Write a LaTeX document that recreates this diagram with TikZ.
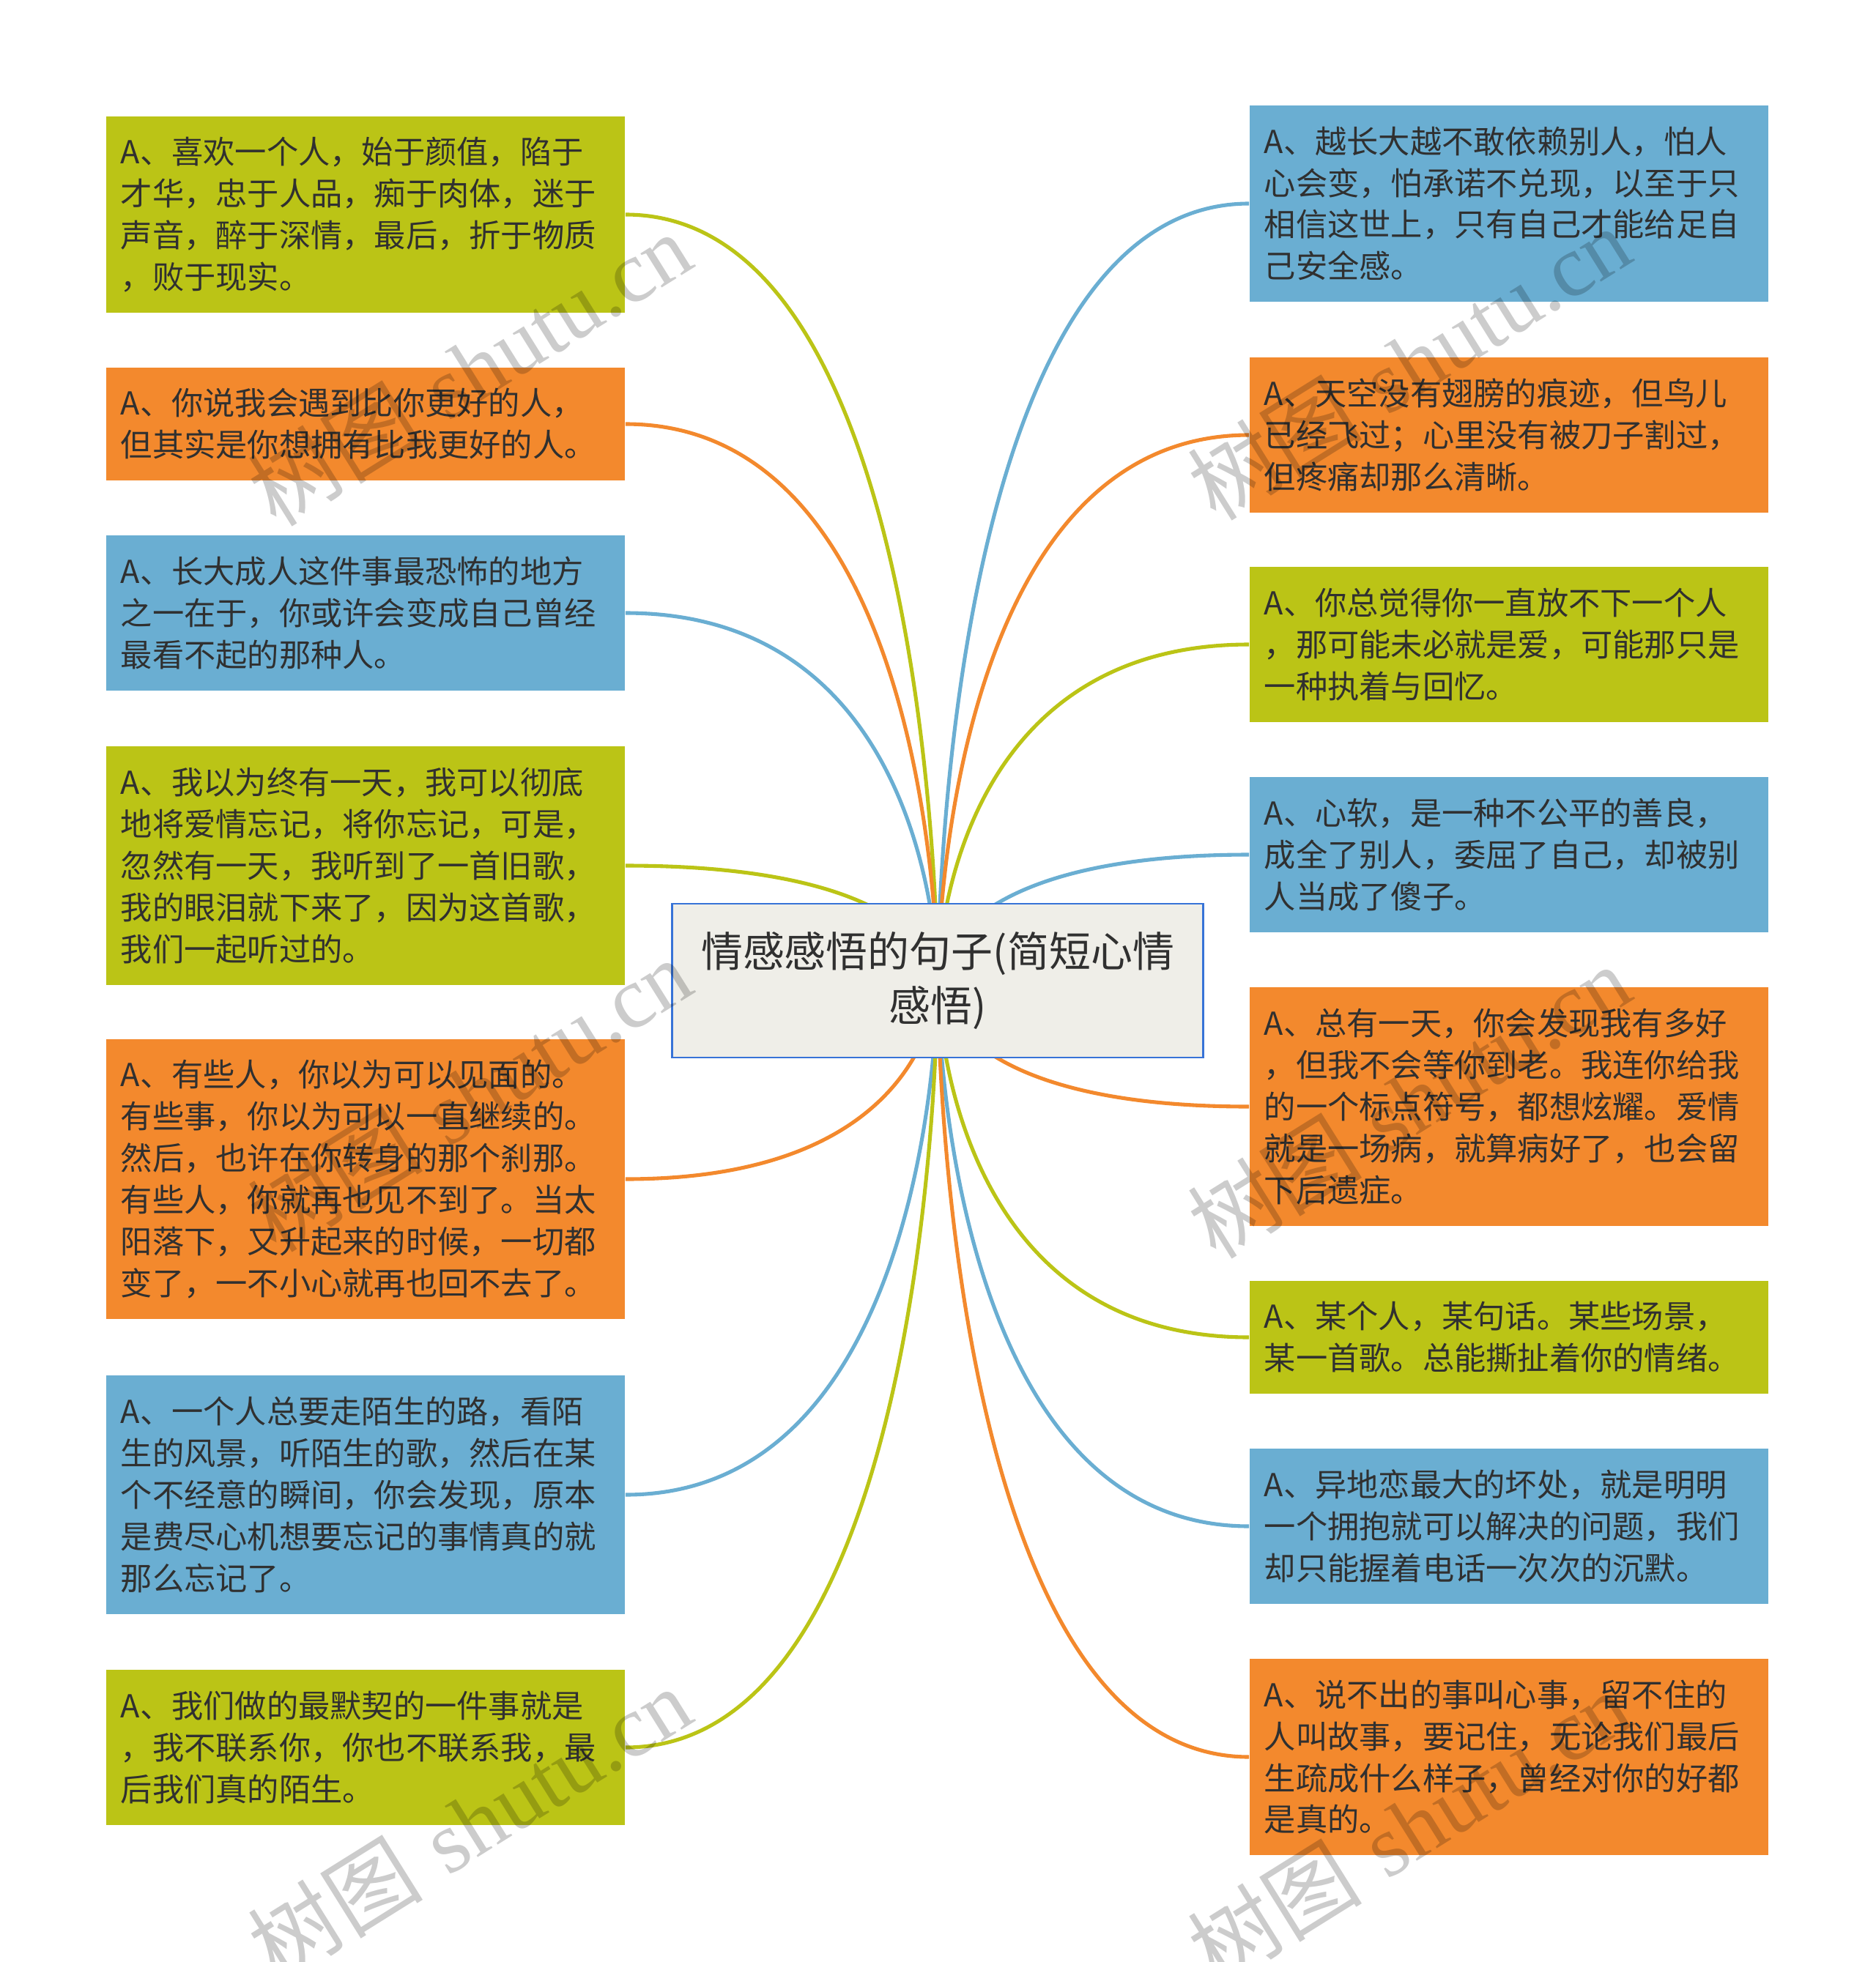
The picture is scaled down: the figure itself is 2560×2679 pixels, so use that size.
\documentclass[tikz,border=0pt]{standalone}
\usepackage{fontspec}
\newfontfamily\cjk{Noto Sans CJK SC}
\newfontfamily\wmserif{Liberation Serif}
\usepackage{xcolor}
\usetikzlibrary{calc}
\definecolor{mindgreen}{RGB}{187,196,22}
\definecolor{mindorange}{RGB}{243,137,45}
\definecolor{mindblue}{RGB}{106,174,210}
\definecolor{mindink}{RGB}{48,48,48}
\definecolor{titlefill}{RGB}{239,238,232}
\definecolor{titleedge}{RGB}{55,115,215}

\begin{document}
\begin{tikzpicture}[x=0.01cm, y=-0.01cm,
    card/.style={rectangle, inner xsep=0.2cm, inner ysep=0pt, text width=6.68cm,
      align=left, minimum height={(0.57*#1+0.4)*1cm}, text=mindink,
      font=\cjk\fontsize{12.3}{16.2}\selectfont},
    link/.style={line width=1.45pt},
    wmark/.style={rotate=32, text=black, opacity=0.2, font=\fontsize{34}{34}\selectfont}]
	\useasboundingbox (0,0) rectangle (2560,2679);
	\coordinate (ctr) at (1280,1339);
	
	% left column
	\node[card=4, fill=mindgreen] (L1) at (499,293) {A、喜欢一个人，始于颜值，陷于\\才华，忠于人品，痴于肉体，迷于\\声音，醉于深情，最后，折于物质\\，败于现实。};
	\node[card=2, fill=mindorange] (L2) at (499,579) {A、你说我会遇到比你更好的人，\\但其实是你想拥有比我更好的人。};
	\node[card=3, fill=mindblue] (L3) at (499,837) {A、长大成人这件事最恐怖的地方\\之一在于，你或许会变成自己曾经\\最看不起的那种人。};
	\node[card=5, fill=mindgreen] (L4) at (499,1182) {A、我以为终有一天，我可以彻底\\地将爱情忘记，将你忘记，可是，\\忽然有一天，我听到了一首旧歌，\\我的眼泪就下来了，因为这首歌，\\我们一起听过的。};
	\node[card=6, fill=mindorange] (L5) at (499,1610) {A、有些人，你以为可以见面的。\\有些事，你以为可以一直继续的。\\然后，也许在你转身的那个刹那。\\有些人，你就再也见不到了。当太\\阳落下，又升起来的时候，一切都\\变了，一不小心就再也回不去了。};
	\node[card=5, fill=mindblue] (L6) at (499,2041) {A、一个人总要走陌生的路，看陌\\生的风景，听陌生的歌，然后在某\\个不经意的瞬间，你会发现，原本\\是费尽心机想要忘记的事情真的就\\那么忘记了。};
	\node[card=3, fill=mindgreen] (L7) at (499,2386) {A、我们做的最默契的一件事就是\\，我不联系你，你也不联系我，最\\后我们真的陌生。};
	
	% right column
	\node[card=4, fill=mindblue] (R1) at (2060,278) {A、越长大越不敢依赖别人，怕人\\心会变，怕承诺不兑现，以至于只\\相信这世上，只有自己才能给足自\\己安全感。};
	\node[card=3, fill=mindorange] (R2) at (2060,594) {A、天空没有翅膀的痕迹，但鸟儿\\已经飞过；心里没有被刀子割过，\\但疼痛却那么清晰。};
	\node[card=3, fill=mindgreen] (R3) at (2060,880) {A、你总觉得你一直放不下一个人\\，那可能未必就是爱，可能那只是\\一种执着与回忆。};
	\node[card=3, fill=mindblue] (R4) at (2060,1167) {A、心软，是一种不公平的善良，\\成全了别人，委屈了自己，却被别\\人当成了傻子。};
	\node[card=5, fill=mindorange] (R5) at (2060,1511) {A、总有一天，你会发现我有多好\\，但我不会等你到老。我连你给我\\的一个标点符号，都想炫耀。爱情\\就是一场病，就算病好了，也会留\\下后遗症。};
	\node[card=2, fill=mindgreen] (R6) at (2060,1826) {A、某个人，某句话。某些场景，\\某一首歌。总能撕扯着你的情绪。};
	\node[card=3, fill=mindblue] (R7) at (2060,2084) {A、异地恋最大的坏处，就是明明\\一个拥抱就可以解决的问题，我们\\却只能握着电话一次次的沉默。};
	\node[card=4, fill=mindorange] (R8) at (2060,2399) {A、说不出的事叫心事，留不住的\\人叫故事，要记住，无论我们最后\\生疏成什么样子，曾经对你的好都\\是真的。};
	
	% branches, hidden under the title box
	\foreach \b/\c in {L1/mindgreen, L2/mindorange, L3/mindblue, L4/mindgreen, L5/mindorange, L6/mindblue, L7/mindgreen}
		\draw[link, \c] (\b.east) .. controls (\b.east -| ctr) and (ctr) .. (ctr);
	\foreach \b/\c in {R1/mindblue, R2/mindorange, R3/mindgreen, R4/mindblue, R5/mindorange, R6/mindgreen, R7/mindblue, R8/mindorange}
		\draw[link, \c] (\b.west) .. controls (\b.west -| ctr) and (ctr) .. (ctr);
	
	\node[rectangle, draw=titleedge, line width=0.8pt, fill=titlefill, minimum width=7.24cm, minimum height=2.1cm,
		align=center, text=mindink, font=\cjk\fontsize{16.2}{21.3}\selectfont] (title) at (ctr) {情感感悟的句子(简短心情\\感悟)};
	
	% watermarks
	\node[wmark] (w1) at (641,504) {{\cjk 树图} {\wmserif shutu.cn}};
	\node[wmark] (w2) at (1923,496) {{\cjk 树图} {\wmserif shutu.cn}};
	\node[wmark] (w3) at (641,1495) {{\cjk 树图} {\wmserif shutu.cn}};
	\node[wmark] (w4) at (1923,1504) {{\cjk 树图} {\wmserif shutu.cn}};
	\node[wmark] (w5) at (641,2490) {{\cjk 树图} {\wmserif shutu.cn}};
	\node[wmark] (w6) at (1923,2495) {{\cjk 树图} {\wmserif shutu.cn}};
\end{tikzpicture}
\end{document}
